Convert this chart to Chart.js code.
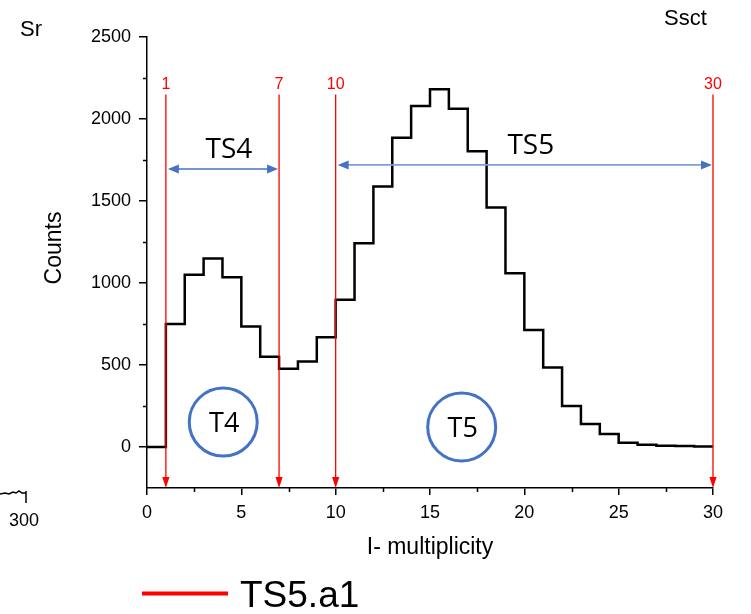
<!DOCTYPE html>
<html>
<head>
<meta charset="utf-8">
<script src="https://cdn.jsdelivr.net/npm/chart.js@4.4.1/dist/chart.umd.min.js"></script>
<style>
  html, body { margin: 0; padding: 0; background: #fff; }
  #contenedor { position: relative; width: 751px; height: 614px; }
</style>
</head>
<body>
<div id="contenedor"><canvas id="grafico-multiplicidad" width="751" height="614"></canvas></div>
<script>
// histogram: value at each bin start (last point closes the final bin)
const multiplicity = [0, 1, 2, 3, 4, 5, 6, 7, 8, 9, 10, 11, 12, 13, 14, 15, 16, 17, 18, 19, 20, 21, 22, 23, 24, 25, 26, 27, 28, 29, 30];
const counts = [0, 750, 1050, 1150, 1035, 735, 550, 477, 521, 669, 898, 1242, 1589, 1885, 2079, 2181, 2063, 1803, 1460, 1060, 713, 485, 250, 140, 80, 26, 14, 8, 6, 3, 3];

const xTicks = [0, 5, 10, 15, 20, 25, 30];
const yTicks = [0, 500, 1000, 1500, 2000, 2500];
const xMinorTicks = [2.5, 7.5, 12.5, 17.5, 22.5, 27.5];
const yMinorTicks = [250, 750, 1250, 1750, 2250];

// red cut lines (TS5.a1)
const cutPoints = [1, 7, 10, 30];
const cutTop = 2150;

// blue ranges
const rangeNames = ['TS4', 'TS5'];
const rangeFrom = [1, 10];
const rangeTo = [7, 30];
const rangeLevel = [1695, 1720];

// circled tags
const tagNames = ['T4', 'T5'];
const tagX = [4.04, 16.68];
const tagY = [152, 122];

const FUENTE = "'Liberation Sans', Arial, sans-serif";
const FUENTE_TS = "'Open Sans', 'Noto Sans', sans-serif";
const ROJO = '#FF0000';
const AZUL = '#4472C4';

const extras = {
    id: 'extras',
    afterDatasetsDraw(chart) {
        const ctx = chart.ctx;
        const x = chart.scales.x;
        const y = chart.scales.y;
        ctx.save();

        // red cut lines with arrow heads and numbers
        cutPoints.forEach(c => {
            const px = x.getPixelForValue(c);
            const top = y.getPixelForValue(cutTop);
            const bottom = y.bottom;
            ctx.strokeStyle = ROJO;
            ctx.lineWidth = 1.3;
            ctx.beginPath();
            ctx.moveTo(px, top);
            ctx.lineTo(px, bottom - 8);
            ctx.stroke();
            ctx.fillStyle = ROJO;
            ctx.beginPath();
            ctx.moveTo(px, bottom);
            ctx.lineTo(px - 3.6, bottom - 11);
            ctx.lineTo(px + 3.6, bottom - 11);
            ctx.closePath();
            ctx.fill();
            ctx.font = '16px ' + FUENTE;
            ctx.textAlign = 'center';
            ctx.textBaseline = 'alphabetic';
            ctx.fillText(String(c), px, top - 5);
        });

        // blue double arrows
        rangeNames.forEach((nombre, i) => {
            const x1 = x.getPixelForValue(rangeFrom[i]) + 2;
            const x2 = x.getPixelForValue(rangeTo[i]) - 1;
            const py = y.getPixelForValue(rangeLevel[i]);
            const color = i === 0 ? AZUL : '#7F9DD8';
            ctx.strokeStyle = color;
            ctx.lineWidth = 1.6;
            ctx.beginPath();
            ctx.moveTo(x1 + 8, py);
            ctx.lineTo(x2 - 8, py);
            ctx.stroke();
            ctx.fillStyle = AZUL;
            ctx.beginPath();
            ctx.moveTo(x1, py);
            ctx.lineTo(x1 + 11, py - 4.5);
            ctx.lineTo(x1 + 11, py + 4.5);
            ctx.closePath();
            ctx.moveTo(x2, py);
            ctx.lineTo(x2 - 11, py - 4.5);
            ctx.lineTo(x2 - 11, py + 4.5);
            ctx.closePath();
            ctx.fill();
            ctx.fillStyle = '#000';
            ctx.font = '28px ' + FUENTE_TS;
            ctx.textAlign = 'center';
            ctx.textBaseline = 'alphabetic';
            ctx.fillText(nombre, (x1 + x2) / 2 + 6, py - 11);
        });

        // text inside circles
        tagNames.forEach((t, i) => {
            const px = x.getPixelForValue(tagX[i]);
            const py = y.getPixelForValue(tagY[i]);
            ctx.fillStyle = '#000';
            ctx.font = '27px ' + FUENTE_TS;
            ctx.textAlign = 'center';
            ctx.textBaseline = 'alphabetic';
            ctx.fillText(t, px + 1, py + 10);
        });
        ctx.restore();
    },
    afterDraw(chart) {
        const ctx = chart.ctx;
        const x = chart.scales.x;
        const y = chart.scales.y;
        ctx.save();

        // minor ticks
        ctx.strokeStyle = '#000';
        ctx.lineWidth = 1.5;
        ctx.beginPath();
        yMinorTicks.forEach(v => {
            const py = Math.round(y.getPixelForValue(v)) + 0.5;
            ctx.moveTo(x.left - 4, py);
            ctx.lineTo(x.left, py);
        });
        xMinorTicks.forEach(v => {
            const px = Math.round(x.getPixelForValue(v)) + 0.5;
            ctx.moveTo(px, y.bottom);
            ctx.lineTo(px, y.bottom + 4);
        });
        ctx.stroke();

        // y axis title (sits a little above the centre of the axis)
        ctx.fillStyle = '#000';
        ctx.font = '23px ' + FUENTE;
        ctx.textAlign = 'center';
        ctx.textBaseline = 'middle';
        ctx.save();
        ctx.translate(55, 248);
        ctx.rotate(-Math.PI / 2);
        ctx.fillText('Counts', 0, 0);
        ctx.restore();

        // loose labels
        ctx.textBaseline = 'alphabetic';
        ctx.textAlign = 'left';
        ctx.font = '22px ' + FUENTE;
        ctx.fillText('Sr', 20, 36);
        ctx.fillText('Ssct', 664, 25);
        ctx.font = '18px ' + FUENTE;
        ctx.fillText('300', 9, 526);

        // fragment of a neighbouring plot
        ctx.strokeStyle = '#000';
        ctx.lineWidth = 1.5;
        ctx.beginPath();
        ctx.moveTo(0, 494);
        ctx.lineTo(5, 493);
        ctx.lineTo(9, 494);
        ctx.lineTo(13, 492);
        ctx.lineTo(16, 493);
        ctx.lineTo(19, 491);
        ctx.lineTo(22, 493);
        ctx.lineTo(26, 493);
        ctx.moveTo(26, 491);
        ctx.lineTo(26, 503);
        ctx.stroke();

        // legend
        ctx.strokeStyle = ROJO;
        ctx.lineWidth = 4;
        ctx.beginPath();
        ctx.moveTo(142, 593.5);
        ctx.lineTo(228, 593.5);
        ctx.stroke();
        ctx.fillStyle = '#000';
        ctx.font = '37px ' + FUENTE;
        ctx.fillText('TS5.a1', 240, 607);
        ctx.restore();
    }
};

const grafico = document.querySelector('#grafico-multiplicidad');

new Chart(grafico, {
    data: {
        datasets: [{
            type: 'line',
            label: 'Counts',
            data: multiplicity.map((m, i) => ({ x: m, y: counts[i] })),
            stepped: true,
            borderColor: '#000',
            borderWidth: 2.5,
            pointRadius: 0,
            fill: false
        }, {
            type: 'bubble',
            label: 'tags',
            data: tagX.map((v, i) => ({ x: v, y: tagY[i] })),
            radius: 34,
            borderColor: AZUL,
            borderWidth: 3,
            backgroundColor: 'rgba(255,255,255,0)'
        }]
    },
    options: {
        responsive: false,
        animation: false,
        layout: {
            padding: { left: 36, right: 38, top: 31, bottom: 50 }
        },
        scales: {
            x: {
                type: 'linear',
                min: 0,
                max: 30,
                afterBuildTicks: s => { s.ticks = xTicks.map(v => ({ value: v })); },
                afterFit: s => { s.height = 76; },
                grid: { drawOnChartArea: false, tickLength: 7, color: '#000', lineWidth: 1.5 },
                border: { color: '#000', width: 1.5 },
                ticks: {
                    color: '#000',
                    font: { family: FUENTE, size: 18 },
                    padding: 7,
                    maxRotation: 0,
                    callback: v => String(v)
                },
                title: {
                    display: true,
                    text: 'I- multiplicity',
                    color: '#000',
                    font: { family: FUENTE, size: 23 },
                    padding: { top: 0, bottom: 3 }
                }
            },
            y: {
                type: 'linear',
                min: -250,
                max: 2500,
                afterBuildTicks: s => { s.ticks = yTicks.map(v => ({ value: v })); },
                afterFit: s => { s.width = 111; },
                grid: { drawOnChartArea: false, tickLength: 8, color: '#000', lineWidth: 1.5 },
                border: { color: '#000', width: 1.5 },
                ticks: {
                    color: '#000',
                    font: { family: FUENTE, size: 18 },
                    padding: 8,
                    callback: v => String(v)
                }
            }
        },
        plugins: {
            legend: { display: false },
            tooltip: { enabled: false }
        }
    },
    plugins: [extras]
});
</script>
</body>
</html>
